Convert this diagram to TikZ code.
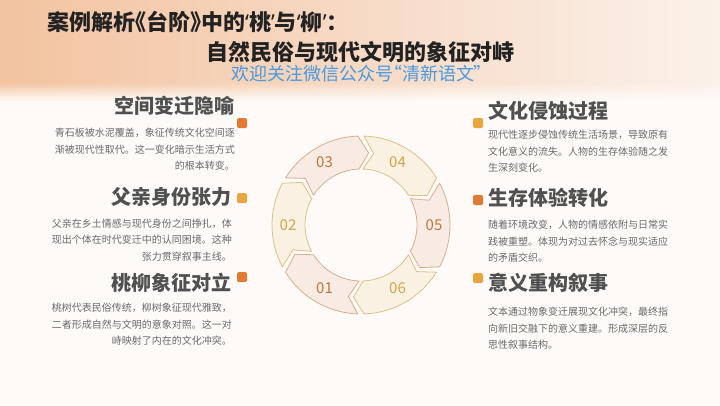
\documentclass[tikz,border=0pt]{standalone}
\usepackage{fontspec}
\setmainfont{Noto Sans CJK SC}
\newfontfamily\titlefont[RawFeature=+palt]{Noto Sans CJK SC}
\newfontfamily\quotefont{Noto Sans}
\usepackage{xcolor}
\usetikzlibrary{positioning}
\definecolor{bandleft}{HTML}{F3C3A0}
\definecolor{bandright}{HTML}{FBF1EA}
\definecolor{pagebg}{HTML}{FDFAF7}
\definecolor{titleink}{HTML}{222222}
\definecolor{wechatblue}{HTML}{4A98DE}
\definecolor{headink}{HTML}{505050}
\definecolor{bodyink}{HTML}{6B6B6B}
\definecolor{rustorange}{HTML}{E07A35}
\definecolor{amber}{HTML}{EBA540}
\definecolor{rosefill}{HTML}{F7EBE3}
\definecolor{creamfill}{HTML}{FAF1E2}
\definecolor{rustedge}{HTML}{D7B08E}
\definecolor{goldedge}{HTML}{DCC287}
\definecolor{rustink}{HTML}{C27638}
\definecolor{goldink}{HTML}{CFA54E}
\newcommand{\qmark}[1]{{\quotefont #1}}

\begin{document}
\begin{tikzpicture}[
    x=1pt, y=-1pt,
    maintitle/.style={font=\titlefont\fontsize{22}{26}\selectfont\bfseries, text=titleink, inner sep=0pt},
    heading/.style={font=\fontsize{20}{24}\selectfont\bfseries, text=headink, inner sep=0pt},
    bodytext/.style={font=\fontsize{10}{16.5}\selectfont, text=bodyink, inner sep=0pt},
    dotbox/.style={minimum size=10pt, inner sep=0pt, rounded corners=1.5pt},
    ringpiece/.style={line width=0.8pt, line join=round},
    seglabel/.style={font=\fontsize{15}{17}\selectfont, inner sep=0pt},
]

% Background
\fill[pagebg] (0,0) rectangle (720,405);
\fill[left color=bandleft, right color=bandright] (0,0) rectangle (720,82);
\foreach \k in {0,...,8} {
  \pgfmathtruncatemacro{\mix}{100-11*\k}
  \fill[left color=bandleft!\mix!pagebg, right color=bandright!\mix!pagebg] (0,82+2*\k) rectangle (720,84.5+2*\k);
}
\useasboundingbox (0,0) rectangle (720,405);

% Titles
\node[maintitle, anchor=west] (title) at (47,22) {案例解析《台阶》中的\qmark{‘}桃\qmark{’}与\qmark{‘}柳\qmark{’}：};
\node[maintitle] (subtitle) at (360,52) {自然民俗与现代文明的象征对峙};
\node[font=\titlefont\fontsize{18}{20}\selectfont, text=wechatblue, inner sep=0pt] (follow) at (357,74) {欢迎关注微信公众号“清新语文”};

% Left column
\node[heading, anchor=east] (space) at (235,106) {空间变迁隐喻};
\node[bodytext, align=right, below=12pt of space.south east, anchor=north east] (spacetxt)
    {青石板被水泥覆盖，象征传统文化空间逐\\渐被现代性取代。这一变化暗示生活方式\\的根本转变。};
\node[heading, anchor=east] (father) at (232,197) {父亲身份张力};
\node[bodytext, align=right, below=12pt of father.south east, anchor=north east] (fathertxt)
    {父亲在乡土情感与现代身份之间挣扎，体\\现出个体在时代变迁中的认同困境。这种\\张力贯穿叙事主线。};
\node[heading, anchor=east] (peach) at (232,283) {桃柳象征对立};
\node[bodytext, align=right, below=10pt of peach.south east, anchor=north east] (peachtxt)
    {桃树代表民俗传统，柳树象征现代雅致，\\二者形成自然与文明的意象对照。这一对\\峙映射了内在的文化冲突。};

% Right column
\node[heading, anchor=west] (erode) at (488,111) {文化侵蚀过程};
\node[bodytext, align=left, below=9pt of erode.south west, anchor=north west] (erodetxt)
    {现代性逐步侵蚀传统生活场景，导致原有\\文化意义的流失。人物的生存体验随之发\\生深刻变化。};
\node[heading, anchor=west] (living) at (488,198) {生存体验转化};
\node[bodytext, align=left, below=12pt of living.south west, anchor=north west] (livingtxt)
    {随着环境改变，人物的情感依附与日常实\\践被重塑。体现为对过去怀念与现实适应\\的矛盾交织。};
\node[heading, anchor=west] (meaning) at (488,283) {意义重构叙事};
\node[bodytext, align=left, below=14pt of meaning.south west, anchor=north west] (meaningtxt)
    {文本通过物象变迁展现文化冲突，最终指\\向新旧交融下的意义重建。形成深层的反\\思性叙事结构。};

% Markers
\node[dotbox, fill=rustorange] (spacedot) at (242,123) {};
\node[dotbox, fill=amber] (fatherdot) at (242,198) {};
\node[dotbox, fill=rustorange] (peachdot) at (242,277) {};
\node[dotbox, fill=amber] (erodedot) at (478,123) {};
\node[dotbox, fill=rustorange] (livingdot) at (478,200) {};
\node[dotbox, fill=amber] (meaningdot) at (478,278) {};

% Cycle ring
\begin{scope}[shift={(361,225)}, x=1pt, y=1pt]
\foreach \c/\num/\ink/\tone/\edge in {240/01/rustink/rosefill/rustedge, 180/02/goldink/creamfill/goldedge,
    120/03/rustink/rosefill/rustedge, 60/04/goldink/creamfill/goldedge,
    0/05/rustink/rosefill/rustedge, 300/06/goldink/creamfill/goldedge} {
  \draw[ringpiece, fill=\tone, draw=\edge] (\c+28:89) arc[start angle=\c+28, end angle=\c-28, radius=89]
    -- (\c-36:72.5) -- (\c-28:56) arc[start angle=\c-28, end angle=\c+28, radius=56]
    -- (\c+20:72.5) -- cycle;
  \node[seglabel, text=\ink] (seg\num) at (\c:73) {\num};
}
\end{scope}

\end{tikzpicture}
\end{document}
